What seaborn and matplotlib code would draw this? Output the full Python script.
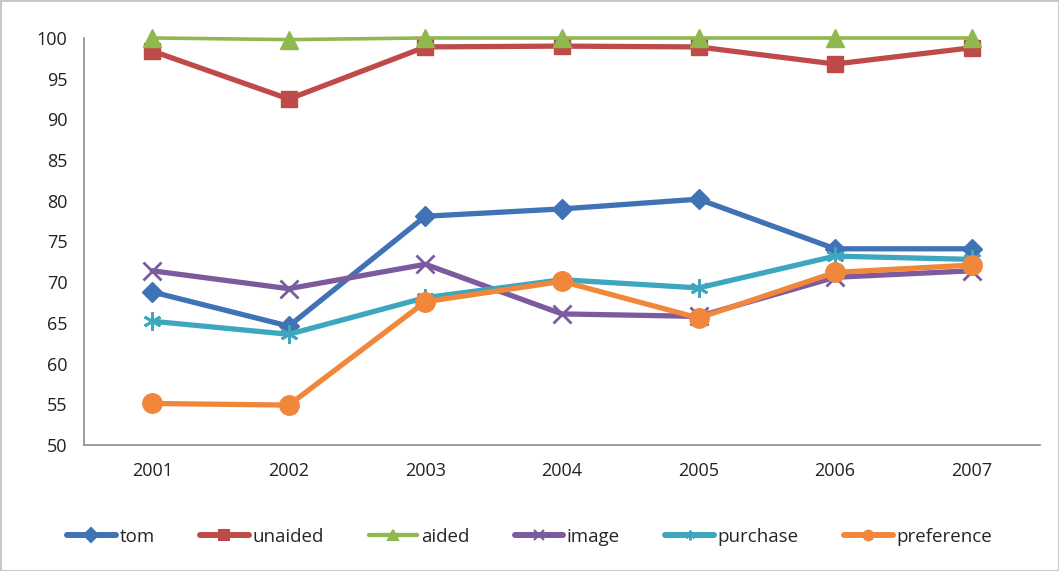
import matplotlib
matplotlib.use('Agg')
from matplotlib import pyplot as plt
from matplotlib.lines import Line2D
import numpy as np
import pandas as pd
import seaborn as sns

sns.set_style("white")
plt.rcParams['font.family'] = ['Open Sans', 'DejaVu Sans']

years = ['2001', '2002', '2003', '2004', '2005', '2006', '2007']
tom = [68.8, 64.6, 78.1, 79.0, 80.2, 74.1, 74.1]
unaided = [98.4, 92.5, 98.9, 99.0, 98.9, 96.8, 98.8]
aided = [100.0, 99.8, 100.0, 100.0, 100.0, 100.0, 100.0]
image = [71.4, 69.2, 72.2, 66.1, 65.8, 70.6, 71.4]
purchase = [65.2, 63.6, 68.1, 70.3, 69.3, 73.2, 72.8]
preference = [55.1, 54.9, 67.6, 70.1, 65.6, 71.2, 72.1]

series = ['tom', 'unaided', 'aided', 'image', 'purchase', 'preference']
colors = {'tom': '#3F73B5', 'unaided': '#BE4B48', 'aided': '#8FB84E',
          'image': '#7B5A9E', 'purchase': '#3EA7BF', 'preference': '#F0873A'}
markers = {'tom': 'D', 'unaided': 's', 'aided': '^', 'image': 'x',
           'purchase': (6, 2, 0), 'preference': 'o'}
msizes = {'tom': 10, 'unaided': 12, 'aided': 13, 'image': 13,
          'purchase': 13, 'preference': 14}
lwidths = {'tom': 3.8, 'unaided': 3.8, 'aided': 2.6, 'image': 3.8,
           'purchase': 3.8, 'preference': 3.8}

values = [tom, unaided, aided, image, purchase, preference]
df = pd.DataFrame({
    'x': np.tile(np.arange(len(years)), len(series)),
    'value': np.concatenate(values),
    'series': np.repeat(series, len(years)),
})

fig = plt.figure(figsize=(10.59, 5.71), dpi=100,
                 edgecolor='#c8c8c8', linewidth=2)
ax = fig.add_axes([0.0793, 0.2207, 0.9027, 0.7128])

for name in series:
    sub = df[df['series'] == name]
    sns.lineplot(data=sub, x='x', y='value', ax=ax, color=colors[name],
                 linewidth=lwidths[name], marker=markers[name],
                 markersize=msizes[name], markeredgecolor=colors[name],
                 markeredgewidth=2 if name in ('image', 'purchase') else 1,
                 legend=False, clip_on=False)

ax.set_xlim(-0.5, len(years) - 0.5)
ax.set_ylim(50, 100)
ax.set_yticks(np.arange(50, 101, 5))
ax.set_xticks(np.arange(-0.5, len(years), 1.0))
ax.set_xticklabels([])
ax.set_xticks(np.arange(len(years)), minor=True)
ax.set_xticklabels(years, minor=True)
ax.tick_params(axis='x', which='major', length=6, width=1.2, color='#8c8c8c',
               direction='out')
ax.tick_params(axis='x', which='minor', length=0, pad=12, labelsize=13,
               labelcolor='#222222')
ax.tick_params(axis='y', length=6, width=1.2, color='#8c8c8c', direction='out',
               labelsize=13, labelcolor='#222222', pad=6)
ax.set_xlabel('')
ax.set_ylabel('')
sns.despine(ax=ax)
for side in ('left', 'bottom'):
    ax.spines[side].set_color('#8c8c8c')
    ax.spines[side].set_linewidth(1.2)

handles = [Line2D([0], [0], color=colors[n], linewidth=lwidths[n] + 0.5,
                  marker=markers[n], markersize=7, markeredgecolor=colors[n],
                  markeredgewidth=1.5)
           for n in series]
fig.legend(handles, series, loc='center', bbox_to_anchor=(0.5, 0.06),
           ncol=6, frameon=False, fontsize=13.5, handlelength=2.6,
           handletextpad=0.2, columnspacing=2.4)

fig.savefig('out.png', dpi=100)
